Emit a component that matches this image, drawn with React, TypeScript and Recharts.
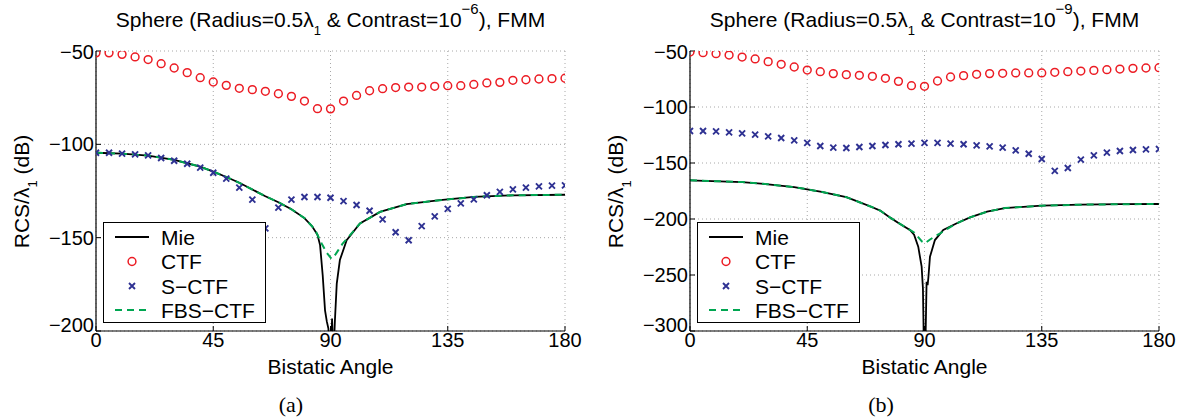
import React from 'react';
import { ComposedChart, Line, Scatter, XAxis, YAxis, CartesianGrid } from 'recharts';

// ---------- data ----------
const ANGLES = [0, 5, 10, 15, 20, 25, 30, 35, 40, 45, 50, 55, 60, 65, 70, 75, 80, 85, 90, 95, 100, 105, 110, 115, 120, 125, 130, 135, 140, 145, 150, 155, 160, 165, 170, 175, 180];

// panel (a): contrast 1e-6
const CTF_A = [-51, -51, -51.8, -53.2, -54.6, -56.8, -59.1, -61.6, -64.3, -66.6, -68.4, -70, -70.7, -71.6, -72.9, -74.3, -76.8, -80.9, -81, -76.8, -73.8, -71.3, -70.2, -69.6, -69.3, -69.3, -68.9, -68.6, -68.6, -67.9, -67.1, -66.8, -65.7, -65.4, -65, -64.8, -64.6];
const SCTF_A = [-104.5, -104.5, -105, -105.4, -105.9, -107.3, -108.8, -110.4, -112.5, -115.2, -118.4, -123.2, -129.6, -145, -133.9, -129.6, -128.2, -128.2, -128.6, -130.4, -132.5, -135.6, -140.2, -147.1, -151.4, -143.8, -138.6, -134.6, -131.6, -129.5, -127.3, -125.5, -124.1, -123.2, -122.5, -122.1, -122];
const MIE_A_X = [0, 10, 20, 30, 40, 45, 50, 55, 60, 65, 70, 75, 80, 83, 85, 86, 87, 87.9, 88.6, 89.2, 89.7, 90.1, 90.6, 91.1, 91.7, 92.4, 93.6, 96.2, 101.3, 109, 119.2, 132, 145, 160, 180];
const MIE_A_Y = [-104.5, -105, -106, -108.3, -112, -114.6, -117.5, -120.6, -124.2, -127.8, -131, -134.8, -139.5, -144, -148.5, -154, -170, -188.9, -195, -198.7, -215, -215, -193.3, -215, -194.2, -174.6, -162, -151.3, -142.4, -136.2, -132, -129.9, -128.2, -127.3, -127];
const FBS_A_X = [0, 10, 20, 30, 40, 45, 50, 55, 60, 65, 70, 75, 80, 83, 84.5, 86.6, 88.5, 90.4, 92, 93, 94.5, 96.2, 101.3, 109, 119.2, 132, 145, 160, 180];
const FBS_A_Y = [-104.5, -105, -106, -108.3, -112, -114.6, -117.5, -120.6, -124.2, -127.8, -131, -134.8, -139.5, -144, -147, -153.1, -158, -161.3, -158.8, -156.7, -153.5, -150.8, -142.4, -136.2, -132, -129.9, -128.2, -127.3, -127];

// panel (b): contrast 1e-9
const CTF_B = [-50.9, -51.5, -52.4, -53.6, -55.4, -57.1, -59.5, -61.9, -64.3, -67, -68.5, -70.2, -71.1, -71.7, -72.6, -74.4, -77.1, -81, -81.5, -76.8, -73.2, -72, -70.8, -70.2, -69.9, -69.6, -69.6, -69.6, -69, -68.5, -67.9, -67.3, -66.7, -66.1, -65.5, -65.2, -64.9];
const SCTF_B = [-121.4, -121.4, -121.7, -122.6, -123.5, -124.7, -126.2, -127.7, -129.8, -132.1, -134.8, -136.3, -136.6, -135.7, -134.8, -133.9, -133.3, -132.7, -132.1, -132.1, -132.7, -133.3, -134.2, -135.1, -136.3, -138.7, -141.7, -146.4, -157.1, -154.5, -147, -143.2, -140.8, -139.3, -138.4, -137.8, -137.5];
const MIE_B_X = [0, 20, 30, 40, 50, 60, 65, 70, 73, 77, 80, 84.4, 86, 87.6, 88.9, 89.4, 89.8, 90.3, 90.8, 91.2, 91.5, 92.1, 94, 97.2, 102.4, 107.5, 114, 120.8, 135, 150, 165, 180];
const MIE_B_Y = [-165.5, -167, -169, -171.5, -175.5, -180.5, -185, -189.5, -192.5, -199, -203.5, -209.8, -214, -224.7, -242.6, -262, -320, -320, -256, -259, -252, -233.7, -218.8, -209.8, -203.8, -198.5, -193.5, -190.2, -188.1, -187.2, -186.8, -186.6];
const FBS_B_X = [0, 20, 30, 40, 50, 60, 65, 70, 73, 77, 80, 84.4, 86, 87.5, 89, 90.2, 92, 94, 96, 100, 103.6, 107.5, 114, 120.8, 135, 150, 165, 180];
const FBS_B_Y = [-165.5, -167, -169, -171.5, -175.5, -180.5, -185, -189.5, -192.5, -199, -203.5, -209.8, -212, -216, -220, -221.7, -218.5, -215.5, -212.8, -207, -202.5, -198.5, -193.5, -190.2, -188.1, -187.2, -186.8, -186.6];

const X_TICKS = [0, 45, 90, 135, 180];
const Y_TICKS_A = [-200, -150, -100, -50];
const Y_TICKS_B = [-300, -250, -200, -150, -100, -50];

// ---------- styles ----------
const FONT = '"Liberation Sans", Arial, Helvetica, sans-serif';
const SERIF = '"Liberation Serif", "Times New Roman", serif';
const RED = '#ec1c24';
const BLUE = '#2e3192';
const GREEN = '#00a651';

const zip = (xs: number[], ys: number[]) => xs.map((x, i) => ({ x, y: ys[i] }));
const fmt = (v: number) => (v < 0 ? `\u2212${-v}` : `${v}`);

const CircleMark = (p: any) => (
  <circle cx={p.cx} cy={p.cy} r={3.9} fill="none" stroke={RED} strokeWidth={1.5} />
);
const CrossMark = (p: any) => {
  const s = 3;
  return (
    <path
      d={`M${p.cx - s},${p.cy - s}L${p.cx + s},${p.cy + s}M${p.cx - s},${p.cy + s}L${p.cx + s},${p.cy - s}`}
      stroke={BLUE}
      strokeWidth={1.9}
      fill="none"
    />
  );
};

const makeYTick = (minVal: number) => (props: any) => {
  const v = props.payload.value;
  const shift = v === minVal ? -6 : v === -50 ? 1 : 0;
  return (
    <text
      x={props.x}
      y={props.y + shift}
      dy="0.355em"
      textAnchor="end"
      fill="#000"
      fontSize={20}
      fontFamily={FONT}
    >
      {fmt(v)}
    </text>
  );
};

const Sub = ({ children }: any) => (
  <span style={{ fontSize: 13, position: 'relative', top: 8 }}>{children}</span>
);
const Sup = ({ children }: any) => (
  <span style={{ fontSize: 15, position: 'relative', top: -13 }}>{children}</span>
);

const LegendBox = ({ left }: { left: number }) => {
  const rows = [14, 38.5, 63, 87];
  const labels = ['Mie', 'CTF', 'S\u2212CTF', 'FBS\u2212CTF'];
  return (
    <div
      style={{
        position: 'absolute',
        left,
        top: 222,
        width: 163,
        height: 101,
        border: '1px solid #000',
        background: '#fff',
        boxSizing: 'border-box',
      }}
    >
      <svg width={161} height={99} style={{ position: 'absolute', left: 0, top: 0 }}>
        <line x1={11} x2={45} y1={rows[0]} y2={rows[0]} stroke="#000" strokeWidth={2} />
        <circle cx={28} cy={rows[1]} r={3.9} fill="none" stroke={RED} strokeWidth={1.5} />
        <path d={`M25,${rows[2] - 3}L31,${rows[2] + 3}M25,${rows[2] + 3}L31,${rows[2] - 3}`} stroke={BLUE} strokeWidth={1.9} />
        <line x1={11} x2={45} y1={rows[3]} y2={rows[3]} stroke={GREEN} strokeWidth={2} strokeDasharray="7 5" />
      </svg>
      {labels.map((t, i) => (
        <div
          key={t}
          style={{
            position: 'absolute',
            left: 57,
            top: rows[i] - 10.5,
            fontSize: 21,
            lineHeight: '21px',
            fontFamily: FONT,
            color: '#000',
            whiteSpace: 'nowrap',
          }}
        >
          {t}
        </div>
      ))}
    </div>
  );
};

type PanelProps = {
  offset: number;
  plotLeft: number;
  marginRight: number;
  yDomain: [number, number];
  yTicks: number[];
  ctf: number[];
  sctf: number[];
  mie: { x: number; y: number }[];
  fbs: { x: number; y: number }[];
  sup: string;
  caption: string;
};

const Panel = (p: PanelProps) => {
  const plotW = 590 - p.plotLeft - p.marginRight;
  const cx = p.plotLeft + plotW / 2;
  const ctfData = zip(ANGLES, p.ctf);
  const sctfData = zip(ANGLES, p.sctf);
  const tickStyle = { fill: '#000', fontSize: 20, fontFamily: FONT };
  return (
    <div style={{ position: 'absolute', left: p.offset, top: 0, width: 590, height: 419 }}>
      <ComposedChart width={590} height={419} margin={{ top: 51, right: p.marginRight, bottom: 58, left: 0 }}>
        <CartesianGrid stroke="#a8a8a8" strokeDasharray="1 3" />
        <XAxis
          type="number"
          dataKey="x"
          domain={[0, 180]}
          ticks={X_TICKS}
          interval={0}
          height={30}
          tickSize={-5}
          tickMargin={7}
          tickFormatter={fmt}
          axisLine={{ stroke: '#000', strokeWidth: 1.2 }}
          tickLine={{ stroke: '#000' }}
          tick={tickStyle}
          allowDataOverflow
        />
        <XAxis
          xAxisId="top"
          orientation="top"
          type="number"
          domain={[0, 180]}
          ticks={X_TICKS}
          interval={0}
          height={0}
          tick={false}
          tickSize={-5}
          axisLine={{ stroke: '#000', strokeWidth: 1.2 }}
          tickLine={{ stroke: '#000' }}
          allowDataOverflow
        />
        <YAxis
          type="number"
          dataKey="y"
          domain={p.yDomain}
          ticks={p.yTicks}
          interval={0}
          width={p.plotLeft}
          tickSize={-5}
          tickMargin={7}
          axisLine={{ stroke: '#000', strokeWidth: 1.2 }}
          tickLine={{ stroke: '#000' }}
          tick={makeYTick(p.yDomain[0])}
          allowDataOverflow
        />
        <YAxis
          yAxisId="right"
          orientation="right"
          type="number"
          domain={p.yDomain}
          ticks={p.yTicks}
          interval={0}
          width={0}
          tick={false}
          tickSize={-5}
          axisLine={{ stroke: '#000', strokeWidth: 1.2 }}
          tickLine={{ stroke: '#000' }}
          allowDataOverflow
        />
        <Line
          data={p.mie}
          dataKey="y"
          type="linear"
          stroke="#000"
          strokeWidth={1.8}
          dot={false}
          activeDot={false}
          isAnimationActive={false}
        />
        <Scatter data={ctfData} dataKey="y" shape={CircleMark} isAnimationActive={false} />
        <Scatter data={sctfData} dataKey="y" shape={CrossMark} isAnimationActive={false} />
        <Line
          data={p.fbs}
          dataKey="y"
          type="linear"
          stroke={GREEN}
          strokeWidth={2}
          strokeDasharray="7 5"
          dot={false}
          activeDot={false}
          isAnimationActive={false}
        />
      </ComposedChart>

      {/* title */}
      <div
        style={{
          position: 'absolute',
          left: p.plotLeft - 60,
          width: plotW + 120,
          top: 9,
          textAlign: 'center',
          fontFamily: FONT,
          fontSize: 21,
          lineHeight: '21px',
          color: '#000',
          whiteSpace: 'nowrap',
        }}
      >
        Sphere (Radius=0.5{'\u03bb'}
        <Sub>1</Sub> &amp; Contrast=10<Sup>{p.sup}</Sup>), FMM
      </div>

      {/* y label */}
      <div
        style={{
          position: 'absolute',
          left: p.plotLeft - 75 - 100,
          top: 191 - 10.5,
          width: 200,
          height: 21,
          textAlign: 'center',
          fontFamily: FONT,
          fontSize: 21,
          lineHeight: '21px',
          color: '#000',
          whiteSpace: 'nowrap',
          transform: 'rotate(-90deg)',
          transformOrigin: '50% 50%',
        }}
      >
        RCS/{'\u03bb'}
        <Sub>1</Sub> (dB)
      </div>

      {/* x label */}
      <div
        style={{
          position: 'absolute',
          left: cx - 100,
          width: 200,
          top: 355.5,
          textAlign: 'center',
          fontFamily: FONT,
          fontSize: 21,
          lineHeight: '21px',
          color: '#000',
        }}
      >
        Bistatic Angle
      </div>

      {/* caption */}
      <div
        style={{
          position: 'absolute',
          left: 291 - 50,
          width: 100,
          top: 394,
          textAlign: 'center',
          fontFamily: SERIF,
          fontSize: 22,
          lineHeight: '22px',
          color: '#000',
        }}
      >
        {p.caption}
      </div>

      <LegendBox left={p.plotLeft + 7} />
    </div>
  );
};

export default function App() {
  return (
    <div style={{ position: 'absolute', left: 0, top: 0, width: 1180, height: 419, background: '#fff', overflow: 'hidden' }}>
      <Panel
        offset={0}
        plotLeft={96}
        marginRight={25}
        yDomain={[-200, -50]}
        yTicks={Y_TICKS_A}
        ctf={CTF_A}
        sctf={SCTF_A}
        mie={zip(MIE_A_X, MIE_A_Y)}
        fbs={zip(FBS_A_X, FBS_A_Y)}
        sup={'\u22126'}
        caption="(a)"
      />
      <Panel
        offset={590}
        plotLeft={100}
        marginRight={21}
        yDomain={[-300, -50]}
        yTicks={Y_TICKS_B}
        ctf={CTF_B}
        sctf={SCTF_B}
        mie={zip(MIE_B_X, MIE_B_Y)}
        fbs={zip(FBS_B_X, FBS_B_Y)}
        sup={'\u22129'}
        caption="(b)"
      />
    </div>
  );
}
